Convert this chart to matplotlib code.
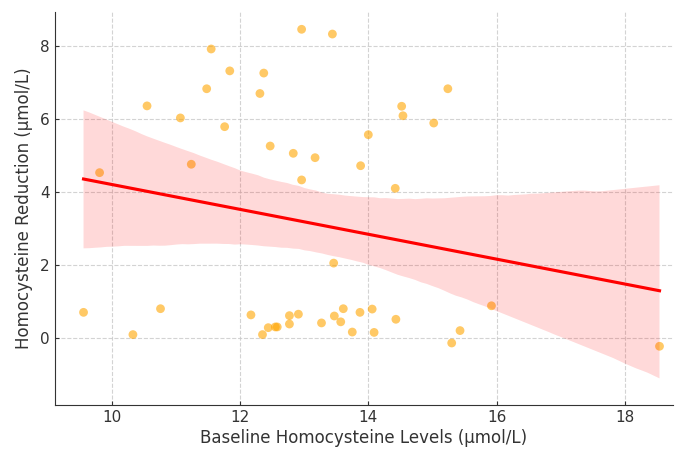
import numpy as np
import pandas as pd
import matplotlib
matplotlib.use("Agg")
import matplotlib.pyplot as plt
import seaborn as sns

baseline = [12.96, 13.44, 11.55, 11.84, 12.37, 11.48, 12.31, 10.55, 11.07, 11.76,
            12.47, 12.83, 13.17, 13.88, 12.96, 11.24, 9.81, 15.24, 14.52, 14.54,
            15.02, 14.00, 14.42, 13.46, 9.56, 10.33, 10.76, 12.17, 12.35, 12.44,
            12.55, 12.58, 12.77, 12.77, 12.91, 13.27, 13.47, 13.61, 13.57, 13.75,
            13.87, 14.06, 14.43, 14.09, 15.30, 15.43, 15.92, 18.54]
reduction = [8.46, 8.33, 7.92, 7.32, 7.26, 6.83, 6.70, 6.36, 6.03, 5.79,
             5.26, 5.06, 4.94, 4.72, 4.33, 4.76, 4.53, 6.83, 6.35, 6.09,
             5.89, 5.57, 4.10, 2.05, 0.70, 0.09, 0.80, 0.63, 0.09, 0.28,
             0.30, 0.30, 0.61, 0.38, 0.65, 0.41, 0.60, 0.80, 0.44, 0.16,
             0.70, 0.79, 0.51, 0.15, -0.14, 0.20, 0.88, -0.23]

df = pd.DataFrame({"x": baseline, "y": reduction})

fig = plt.figure(figsize=(6.75, 4.5), dpi=100)
ax = fig.add_axes([0.081, 0.10, 0.916, 0.873])
sns.regplot(data=df, x="x", y="y", ax=ax, ci=95, seed=3,
            scatter_kws={"color": "orange", "alpha": 0.6, "s": 40, "edgecolor": "none"},
            line_kws={"color": "red"})
ax.set_xlim(9.11, 18.75)
ax.set_ylim(-1.84, 8.93)
ax.set_xticks([10, 12, 14, 16, 18])
ax.set_yticks([0, 2, 4, 6, 8])
ax.grid(True, linestyle="--", color="#c8c8c8", alpha=0.8, linewidth=0.8)
ax.set_axisbelow(True)
for s in ["top", "right"]:
    ax.spines[s].set_visible(False)
for s in ["left", "bottom"]:
    ax.spines[s].set_color("#333333")
ax.set_xlabel("Baseline Homocysteine Levels (µmol/L)", fontsize=12, color="#333333", labelpad=3)
ax.set_ylabel("Homocysteine Reduction (µmol/L)", fontsize=12, color="#333333", labelpad=5)
ax.tick_params(labelsize=11, direction="in", length=3, colors="#333333")
fig.savefig("out.png", dpi=100)
